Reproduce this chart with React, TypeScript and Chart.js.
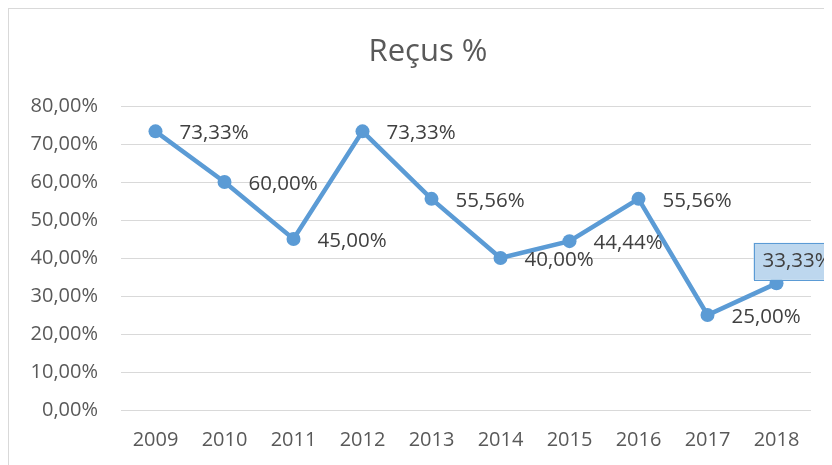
import React, { useEffect, useRef } from "react";
import { Chart, registerables } from "chart.js";

Chart.register(...registerables);

const years = ["2009", "2010", "2011", "2012", "2013", "2014", "2015", "2016", "2017", "2018"];
const values = [73.33, 60.0, 45.0, 73.33, 55.56, 40.0, 44.44, 55.56, 25.0, 33.33];
const yTicks = [0, 10, 20, 30, 40, 50, 60, 70, 80];
const title = "Reçus %";

const FONT = "'Open Sans', 'Noto Sans', sans-serif";
const fmt = (v: number) => v.toFixed(2).replace(".", ",") + "%";

const titlePlugin = {
  id: "titleText",
  afterDraw(chart: any) {
    const ctx = chart.ctx;
    ctx.save();
    ctx.font = `31px ${FONT}`;
    ctx.fillStyle = "#595959";
    ctx.textAlign = "center";
    ctx.textBaseline = "middle";
    ctx.fillText(title, 419, 43);
    ctx.restore();
  },
};

const labelPlugin = {
  id: "pointLabels",
  afterDatasetsDraw(chart: any) {
    const ctx = chart.ctx;
    const meta = chart.getDatasetMeta(0);
    ctx.save();
    ctx.font = `20.5px ${FONT}`;
    ctx.textBaseline = "middle";
    ctx.textAlign = "left";
    const last = meta.data.length - 1;
    meta.data.forEach((pt: any, i: number) => {
      const text = fmt(values[i]);
      if (i === last) {
        const tx = pt.x - 14;
        const ty = pt.y - 22;
        const w = ctx.measureText(text).width;
        ctx.fillStyle = "#BDD7EE";
        ctx.strokeStyle = "#5B9BD5";
        ctx.lineWidth = 1;
        ctx.fillRect(tx - 9, ty - 18.5, w + 18, 37);
        ctx.strokeRect(Math.round(tx - 9) + 0.5, Math.round(ty - 18.5) + 0.5, w + 18, 37);
        ctx.fillStyle = "#404040";
        ctx.fillText(text, tx, ty);
      } else {
        ctx.fillStyle = "#404040";
        ctx.fillText(text, pt.x + 24, pt.y + 2);
      }
    });
    ctx.restore();
  },
};

export default function App() {
  const ref = useRef<HTMLCanvasElement>(null);
  useEffect(() => {
    if (!ref.current) return;
    const chart = new Chart(ref.current, {
      type: "line",
      data: {
        labels: years,
        datasets: [
          {
            data: values,
            borderColor: "#5B9BD5",
            backgroundColor: "#5B9BD5",
            borderWidth: 4.5,
            pointRadius: 7,
            pointBackgroundColor: "#5B9BD5",
            pointBorderColor: "#5B9BD5",
            pointBorderWidth: 0,
            tension: 0,
          },
        ],
      },
      options: {
        responsive: false,
        maintainAspectRatio: false,
        animation: false,
        layout: { padding: { top: 97, left: 0, right: 21, bottom: 0 } },
        plugins: {
          legend: { display: false },
          tooltip: { enabled: false },
          title: { display: false },
        },
        scales: {
          x: {
            offset: true,
            grid: { display: false, drawTicks: false, offset: true },
            border: { display: false },
            ticks: {
              color: "#595959",
              font: { family: FONT, size: 20 },
              padding: 18,
              maxRotation: 0,
              autoSkip: false,
            },
            afterFit(scale: any) {
              scale.height = 55;
            },
          },
          y: {
            min: 0,
            max: 80,
            afterBuildTicks(scale: any) {
              scale.ticks = yTicks.map((v) => ({ value: v }));
            },
            grid: { color: "#D9D9D9", lineWidth: 1, drawTicks: false },
            border: { display: false },
            ticks: {
              color: "#595959",
              font: { family: FONT, size: 20 },
              padding: 23,
              callback: (v: any) => fmt(Number(v)),
            },
            afterFit(scale: any) {
              scale.width = 112;
            },
          },
        },
      },
      plugins: [labelPlugin, titlePlugin],
    });
    return () => chart.destroy();
  }, []);

  return (
    <div
      style={{
        width: 824,
        height: 457,
        boxSizing: "border-box",
        borderLeft: "1px solid #D9D9D9",
        borderTop: "1px solid #D9D9D9",
        overflow: "hidden",
        background: "#fff",
      }}
    >
      <canvas ref={ref} width={823} height={456} style={{ display: "block" }} />
    </div>
  );
}
